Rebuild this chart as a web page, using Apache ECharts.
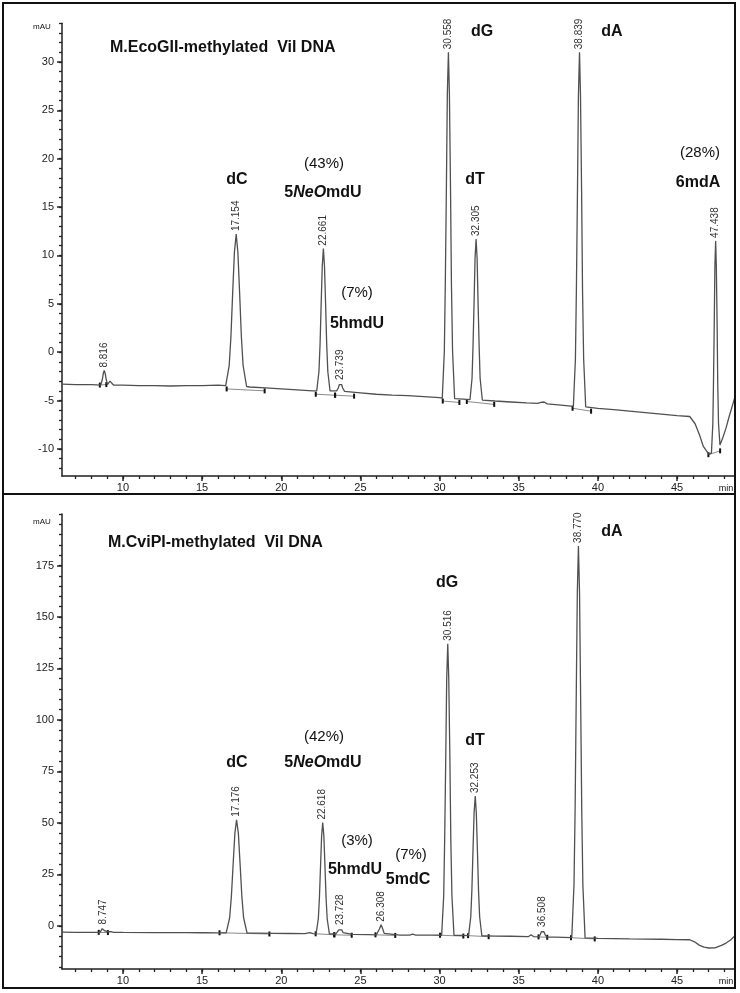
<!DOCTYPE html>
<html><head><meta charset="utf-8">
<script src="https://cdn.jsdelivr.net/npm/echarts@6/dist/echarts.min.js"></script>
<style>html,body{margin:0;padding:0;background:#fff}#c{width:740px;height:993px}</style>
</head><body><div id="c"></div>
<script>
// ---------- data ----------
const topSignal = [
[6.15,-3.3],[7.0,-3.35],[8.0,-3.35],[8.6,-3.4],
[8.7,-2.8],[8.76,-2.2],[8.816,-1.9],[8.88,-2.2],[8.94,-2.8],[9.02,-3.35],[9.1,-3.15],[9.18,-3.0],[9.26,-3.2],[9.4,-3.4],
[10,-3.4],[11,-3.45],[12,-3.45],[13,-3.5],[14,-3.45],[15,-3.45],[16,-3.4],[16.49,-3.45],
[16.71,-1.4],[16.82,1.6],[16.93,6.1],[17.04,10.3],[17.154,12.2],[17.26,10.3],[17.37,6.1],[17.48,1.6],[17.59,-1.4],[17.81,-3.55],
[18.0,-3.6],[19,-3.7],[20,-3.8],[21,-3.9],[22,-4.0],[22.24,-4.0],
[22.38,-2.0],[22.45,0.8],[22.52,5.0],[22.59,8.9],[22.661,10.7],[22.73,8.9],[22.80,5.0],[22.87,0.8],[22.94,-2.0],[23.08,-4.0],
[23.3,-4.0],[23.5,-4.0],[23.6,-3.7],[23.67,-3.35],[23.739,-3.2],[23.81,-3.35],[23.88,-3.7],[24.0,-4.05],
[25,-4.2],[26,-4.35],[27,-4.45],[28,-4.5],[29,-4.6],[30,-4.7],[30.17,-4.75],
[30.30,0.1],[30.36,6.9],[30.43,17.0],[30.49,26.7],[30.558,31.0],[30.62,26.7],[30.69,17.0],[30.75,6.9],[30.82,0.1],[30.95,-4.8],
[31.5,-4.85],[31.92,-4.9],
[32.05,-2.7],[32.11,0.5],[32.18,5.2],[32.24,9.7],[32.305,11.7],[32.37,9.7],[32.43,5.2],[32.50,0.5],[32.56,-2.7],[32.70,-4.95],
[33.5,-5.05],[34.5,-5.15],[35.5,-5.25],[36.2,-5.3],[36.4,-5.2],[36.5,-5.0],[36.6,-5.15],[36.8,-5.35],[37.5,-5.45],[38.45,-5.6],
[38.58,-0.7],[38.64,6.3],[38.71,16.7],[38.77,26.6],[38.839,31.0],[38.90,26.6],[38.97,16.7],[39.03,6.3],[39.10,-0.7],[39.23,-5.65],
[40,-5.8],[41,-5.95],[42,-6.1],[43,-6.25],[44,-6.4],[45,-6.55],[45.8,-6.65],[46.14,-7.4],[46.45,-8.7],[46.66,-9.75],[46.98,-10.5],[47.17,-10.45],
[47.26,-7.4],[47.30,-3.3],[47.35,3.0],[47.39,8.9],[47.438,11.5],[47.48,8.9],[47.53,3.0],[47.57,-3.3],[47.62,-7.4],[47.71,-9.6],
[47.9,-8.8],[48.1,-7.8],[48.3,-6.6],[48.5,-5.5],[48.66,-4.6]
];
const bottomSignal = [
[6.15,-3.1],[7,-3.2],[8,-3.2],[8.55,-3.2],
[8.63,-2.5],[8.69,-1.4],[8.747,-0.8],[8.8,-1.4],[8.86,-2.5],[8.95,-3.2],[9.05,-2.9],[9.15,-2.6],[9.25,-2.9],[9.4,-3.2],
[10,-3.25],[12,-3.3],[14,-3.35],[15,-3.4],[16,-3.45],[16.52,-3.5],
[16.74,3.9],[16.85,14.4],[16.96,29.9],[17.07,44.9],[17.176,51.5],[17.29,44.9],[17.40,29.9],[17.51,14.4],[17.62,3.9],[17.84,-3.55],
[18.5,-3.6],[19.5,-3.7],[20.5,-3.75],[21.5,-3.8],[21.8,-3.3],[22.0,-3.8],[22.2,-3.9],
[22.34,3.4],[22.41,13.6],[22.48,28.9],[22.55,43.7],[22.618,50.1],[22.69,43.7],[22.76,28.9],[22.83,13.6],[22.90,3.4],[23.04,-3.9],
[23.25,-4.0],[23.45,-4.0],[23.55,-3.3],[23.63,-2.0],[23.728,-1.1],[23.82,-2.0],[23.9,-3.3],[24.0,-4.05],
[24.5,-4.2],[25.5,-4.3],[26.0,-4.4],[26.1,-3.7],[26.2,-1.6],[26.308,0.5],[26.41,-1.6],[26.5,-3.7],[26.6,-4.4],
[27.5,-4.5],[28.1,-4.5],[28.3,-4.1],[28.5,-4.5],[29.5,-4.55],[30.13,-4.6],
[30.26,14.5],[30.32,41.4],[30.39,81.8],[30.45,120],[30.516,137],[30.58,120],[30.65,81.8],[30.71,41.4],[30.78,14.5],[30.91,-4.6],
[31.4,-4.7],[31.83,-4.8],
[31.97,4.4],[32.04,17.2],[32.11,36.6],[32.18,54.9],[32.253,63],[32.32,54.9],[32.39,36.6],[32.46,17.2],[32.53,4.4],[32.67,-4.85],
[33.5,-5.0],[34.5,-5.1],[35.6,-5.3],[35.78,-4.4],[35.95,-5.3],[36.25,-5.4],
[36.35,-4.4],[36.43,-2.9],[36.508,-2.0],[36.59,-2.9],[36.67,-4.4],[36.78,-5.45],
[37.3,-5.5],[38.35,-5.8],
[38.49,19.9],[38.56,56.0],[38.63,110.2],[38.70,161.7],[38.77,184.5],[38.84,161.7],[38.91,110.2],[38.98,56.0],[39.05,19.9],[39.19,-5.85],
[40,-6.1],[41,-6.2],[42,-6.35],[43,-6.45],[44,-6.55],[45,-6.7],[45.8,-6.8],[46.1,-7.8],[46.4,-9.4],[46.7,-10.4],[47.0,-10.8],[47.4,-10.7],[47.8,-9.5],[48.1,-8.4],[48.4,-6.8],[48.66,-4.8]
];

const topPeakTimes   = [8.816, 17.154, 22.661, 23.739, 30.558, 32.305, 38.839, 47.438];
const topPeakHeights = [-1.9, 12.2, 10.7, -3.2, 31.0, 11.7, 31.0, 11.5];
const topPeakLabels  = ['8.816','17.154','22.661','23.739','30.558','32.305','38.839','47.438'];

const bottomPeakTimes   = [8.747, 17.176, 22.618, 23.728, 26.308, 30.516, 32.253, 36.508, 38.770];
const bottomPeakHeights = [-0.8, 51.5, 50.1, -1.1, 0.5, 137, 63, -2.0, 184.5];
const bottomPeakLabels  = ['8.747','17.176','22.618','23.728','26.308','30.516','32.253','36.508','38.770'];

const topIntegration = [
 [[8.54,-3.4],[8.95,-3.35]], [[16.55,-3.8],[18.95,-4.0]], [[22.18,-4.35],[23.4,-4.45]], [[23.4,-4.45],[24.6,-4.55]],
 [[30.2,-5.05],[31.25,-5.2]], [[31.72,-5.1],[33.45,-5.4]], [[38.4,-5.8],[39.57,-6.1]], [[46.98,-10.6],[47.72,-10.2]]
];
const bottomIntegration = [
 [[8.47,-3.2],[9.05,-3.3]], [[16.1,-3.4],[19.25,-4.0]], [[22.17,-3.9],[23.35,-4.4]], [[23.35,-4.4],[24.45,-4.6]],
 [[25.95,-4.4],[27.2,-4.7]], [[30.03,-4.6],[31.5,-5.0]], [[31.8,-4.8],[33.1,-5.3]], [[36.25,-5.4],[36.8,-5.6]], [[38.3,-5.8],[39.8,-6.4]]
];

const xMajorTicks = [10,15,20,25,30,35,40,45];
const xMinorTicks = [7,8,9,10,11,12,13,14,15,16,17,18,19,20,21,22,23,24,25,26,27,28,29,30,31,32,33,34,35,36,37,38,39,40,41,42,43,44,45,46,47,48];
const topYMajorTicks = [-10,-5,0,5,10,15,20,25,30];
const topYMinorTicks = [-12,-11,-10,-9,-8,-7,-6,-5,-4,-3,-2,-1,0,1,2,3,4,5,6,7,8,9,10,11,12,13,14,15,16,17,18,19,20,21,22,23,24,25,26,27,28,29,30,31,32,33,34];
const bottomYMajorTicks = [0,25,50,75,100,125,150,175];
const bottomYMinorTicks = [-20,-15,-10,-5,0,5,10,15,20,25,30,35,40,45,50,55,60,65,70,75,80,85,90,95,100,105,110,115,120,125,130,135,140,145,150,155,160,165,170,175,180,185,190,195,200];

// ---------- chart ----------
const FONT = "'Liberation Sans', Arial, sans-serif";
const chart = echarts.init(document.getElementById('c'), null, {renderer:'canvas'});
const AX = '#222';

function majorAxis(grid, min, max, ticks, extra) {
  return Object.assign({
    type:'value', gridIndex:grid, min:min, max:max,
    axisLine:{show:true, onZero:false, lineStyle:{color:AX, width:1.5}},
    axisTick:{show:true, customValues:ticks, length:5, lineStyle:{color:AX, width:1.5}},
    axisLabel:{show:true, customValues:ticks, fontSize:11, color:AX, fontFamily:FONT},
    splitLine:{show:false}
  }, extra);
}
function minorAxis(grid, min, max, ticks, extra) {
  return Object.assign({
    type:'value', gridIndex:grid, min:min, max:max,
    axisLine:{show:false, onZero:false},
    axisTick:{show:true, customValues:ticks, length:3, lineStyle:{color:AX, width:1.3}},
    axisLabel:{show:false},
    splitLine:{show:false}
  }, extra);
}

const xAxes = [
  majorAxis(0, 6.15, 48.66, xMajorTicks, {position:'bottom', axisLabel:{customValues:xMajorTicks, fontSize:11, color:AX, fontFamily:FONT, margin:6}}),
  minorAxis(0, 6.15, 48.66, xMinorTicks, {position:'bottom'}),
  majorAxis(1, 6.15, 48.66, xMajorTicks, {position:'bottom', axisLabel:{customValues:xMajorTicks, fontSize:11, color:AX, fontFamily:FONT, margin:6}}),
  minorAxis(1, 6.15, 48.66, xMinorTicks, {position:'bottom'})
];
const yAxes = [
  majorAxis(0, -12.8, 34, topYMajorTicks, {position:'left', axisLabel:{customValues:topYMajorTicks, fontSize:11, color:AX, fontFamily:FONT, margin:8}}),
  minorAxis(0, -12.8, 34, topYMinorTicks, {position:'left'}),
  majorAxis(1, -21, 200, bottomYMajorTicks, {position:'left', axisLabel:{customValues:bottomYMajorTicks, fontSize:11, color:AX, fontFamily:FONT, margin:8}}),
  minorAxis(1, -21, 200, bottomYMinorTicks, {position:'left'})
];

const series = [];
function addPanel(signal, times, heights, labels, integ, xi, yi) {
  integ.forEach(seg => series.push({
    type:'line', xAxisIndex:xi, yAxisIndex:yi, data:seg, silent:true,
    symbol:'rect', symbolSize:[2,5], showSymbol:true, itemStyle:{color:'#111'},
    lineStyle:{color:'#8a8a8a', width:1}, z:2, animation:false
  }));
  series.push({
    type:'line', xAxisIndex:xi, yAxisIndex:yi, data:signal, showSymbol:false, silent:true,
    lineStyle:{color:'#505050', width:1.3}, z:3, animation:false
  });
  series.push({
    type:'scatter', xAxisIndex:xi, yAxisIndex:yi, silent:true, animation:false,
    data: times.map((t,i)=>[t, heights[i]]),
    symbolSize:2, itemStyle:{color:'rgba(0,0,0,0)'}, z:4,
    label:{show:true, position:'top', distance:2, rotate:90, align:'left', verticalAlign:'middle',
      fontSize:10, color:'#333', fontFamily:FONT, opacity:1,
      formatter: p => labels[p.dataIndex]}
  });
}
addPanel(topSignal, topPeakTimes, topPeakHeights, topPeakLabels, topIntegration, 0, 0);
addPanel(bottomSignal, bottomPeakTimes, bottomPeakHeights, bottomPeakLabels, bottomIntegration, 2, 2);

function txt(x, y, text, opts) {
  const o = Object.assign({bold:true, size:16}, opts||{});
  return {type:'text', x:x, y:y, z:10, silent:true, style:Object.assign({
    text:text, fill:'#111',
    font:(o.bold?'bold ':'') + o.size + 'px ' + FONT,
    align:o.align||'center', verticalAlign:'middle',
    textAlign:o.align||'center', textVerticalAlign:'middle'
  }, o.rich?{rich:o.rich}:{})};
}
const neoRich = {
  n:{fontWeight:'bold', fontSize:16, fontFamily:FONT, fill:'#111', color:'#111'},
  i:{fontWeight:'bold', fontStyle:'italic', fontSize:16, fontFamily:FONT, fill:'#111', color:'#111'}
};
const graphics = [
  {type:'rect', shape:{x:3, y:3, width:732, height:491}, style:{fill:null, stroke:'#111', lineWidth:2}, z:20, silent:true},
  {type:'rect', shape:{x:3, y:494, width:732, height:494}, style:{fill:null, stroke:'#111', lineWidth:2}, z:20, silent:true},
  // top panel
  txt(110, 48, 'M.EcoGII-methylated  Vil DNA', {align:'left'}),
  txt(42, 27, 'mAU', {bold:false, size:8}),
  txt(726, 489, 'min', {bold:false, size:9}),
  txt(237, 180, 'dC'),
  txt(324, 164, '(43%)', {bold:false, size:15}),
  txt(323, 193, '{n|5}{i|Ne}{i|O}{n|mdU}', {rich:neoRich}),
  txt(357, 293, '(7%)', {bold:false, size:15}),
  txt(357, 324, '5hmdU'),
  txt(482, 32, 'dG'),
  txt(612, 32, 'dA'),
  txt(475, 180, 'dT'),
  txt(700, 153, '(28%)', {bold:false, size:15}),
  txt(698, 183, '6mdA'),
  // bottom panel
  txt(108, 543, 'M.CviPI-methylated  Vil DNA', {align:'left'}),
  txt(42, 522, 'mAU', {bold:false, size:8}),
  txt(726, 982, 'min', {bold:false, size:9}),
  txt(612, 532, 'dA'),
  txt(447, 583, 'dG'),
  txt(475, 741, 'dT'),
  txt(324, 737, '(42%)', {bold:false, size:15}),
  txt(323, 763, '{n|5}{i|Ne}{i|O}{n|mdU}', {rich:neoRich}),
  txt(237, 763, 'dC'),
  txt(357, 841, '(3%)', {bold:false, size:15}),
  txt(355, 870, '5hmdU'),
  txt(411, 855, '(7%)', {bold:false, size:15}),
  txt(408, 880, '5mdC')
];

chart.setOption({
  animation:false,
  backgroundColor:'#fff',
  grid:[
    {left:62, top:23.2, right:5, bottom:517, containLabel:false},
    {left:62, top:514, right:5, bottom:24, containLabel:false}
  ],
  xAxis:xAxes,
  yAxis:yAxes,
  series:series,
  graphic:graphics
});
</script>
</body></html>
